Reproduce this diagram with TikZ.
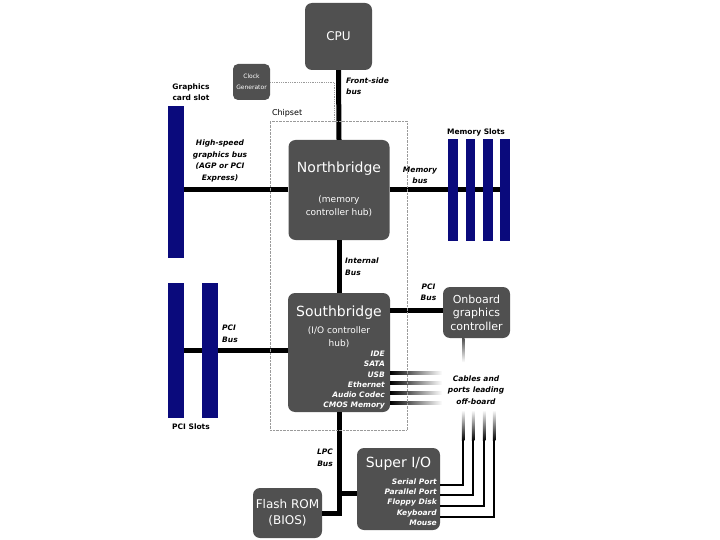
\documentclass[tikz,border=0pt]{standalone}
\usepackage{fontspec}
\setmainfont{DejaVu Sans}
\usetikzlibrary{positioning,calc}
\definecolor{ChipGray}{HTML}{505050}
\definecolor{SlotBlue}{HTML}{0A0A7C}
\definecolor{DotGray}{HTML}{9A9A9A}

\tikzset{
  chip/.style={fill=ChipGray, rounded corners=7pt, text=white, align=center, inner sep=0pt},
  slot/.style={fill=SlotBlue, inner sep=0pt},
  bus/.style={line width=5pt},
  portline/.style={line width=2.5pt},
  buslabel/.style={font=\fontsize{7.5}{11.5}\selectfont\bfseries\itshape, align=center, inner sep=0pt},
  slotlabel/.style={font=\fontsize{7.5}{11}\selectfont\bfseries, align=center, inner sep=0pt},
  portlist/.style={font=\fontsize{7.5}{10.2}\selectfont\bfseries\itshape, text=white, align=right, inner sep=0pt, anchor=north east},
}

\begin{document}
\begin{tikzpicture}[x=1pt, y=-1pt]
\useasboundingbox (0,0) rectangle (720,540);

% chips
\node[chip, minimum width=67pt, minimum height=67pt, font=\fontsize{12}{14}\selectfont] (cpu) at (338.5,36.5) {CPU};
\node[chip, rounded corners=5pt, minimum width=37pt, minimum height=36pt, font=\fontsize{6}{10.5}\selectfont] (clock) at (251.5,82) {Clock\\Generator};
\node[chip, minimum width=101pt, minimum height=100pt] (nb) at (339,190) {};
\node[text=white, font=\fontsize{14}{16}\selectfont] (nbtitle) at (339,169) {Northbridge};
\node[text=white, align=center, font=\fontsize{9}{13}\selectfont] (nbsub) at (339,206) {(memory\\controller hub)};
\node[chip, minimum width=102pt, minimum height=119pt] (sb) at (339,352.5) {};
\node[text=white, font=\fontsize{14}{16}\selectfont] (sbtitle) at (339,313) {Southbridge};
\node[text=white, align=center, font=\fontsize{9}{13}\selectfont] (sbsub) at (339,337) {(I/O controller\\hub)};
\node[portlist] (sbports) at (385,351) {IDE\\SATA\\USB\\Ethernet\\Audio Codec\\CMOS Memory};
\node[chip, minimum width=67pt, minimum height=51pt, font=\fontsize{11}{13.5}\selectfont] (gfx) at (476.5,312.5) {Onboard\\graphics\\controller};
\node[chip, minimum width=83pt, minimum height=82pt] (sio) at (398.5,489) {};
\node[text=white, font=\fontsize{14}{16}\selectfont] (siotitle) at (398.5,464) {Super I/O};
\node[portlist] (sioports) at (437,478.5) {Serial Port\\Parallel Port\\Floppy Disk\\Keyboard\\Mouse};
\node[chip, minimum width=69pt, minimum height=50pt, font=\fontsize{12}{16}\selectfont] (flash) at (287.5,513) {Flash ROM\\(BIOS)};

% slots (drawn after the buses)
\coordinate (gslotpos) at (176,182);
\coordinate (pcipos) at (176,350.5);

% buses
\draw[bus] (cpu.south) -- (nb.north);
\draw[bus] (nb.south) -- (sb.north);
\draw[bus] (nb.west) -- (nb.west -| gslotpos);
\draw[bus] (nb.east) -- (nb.east -| 500,0);
\draw[bus] (sb.west |- pcipos) -- (pcipos);
\coordinate (pcigfx) at (390,310);
\draw[bus] (pcigfx) -- (pcigfx -| gfx.west);
\draw[bus] (sb.south) |- (flash.east);
\coordinate (lpcjoin) at (339,493);
\draw[bus] (lpcjoin) -- (lpcjoin -| sio.west);

\node[slot, minimum width=16pt, minimum height=152pt] (gslot) at (gslotpos) {};
\node[slot, minimum width=16pt, minimum height=135pt] (pci1) at (pcipos) {};
\node[slot, minimum width=16pt, minimum height=135pt, right=18pt of pci1] (pci2) {};
\foreach \i/\x in {1/453, 2/470.5, 3/488, 4/505}
  \node[slot, minimum width=9.5pt, minimum height=102pt] (mem\i) at (\x,190) {};

% cables and ports leading off-board
\foreach \d in {20.5,30.5,40.5,50.5}
  \shade[left color=black, right color=white] ($(sb.east)+(0,\d-1.2)$) rectangle ($(sb.east)+(52,\d+1.2)$);
\shade[top color=ChipGray, bottom color=white] ($(gfx.south)+(-14.5,0)$) rectangle ($(gfx.south)+(-12,24)$);
\foreach \y/\x in {485/463, 495/473, 506/484, 517/494} {
  \draw[portline] (sio.east |- 0,\y) -| (\x,440);
  \shade[top color=white, bottom color=black] (\x-1.25,410) rectangle (\x+1.25,440.5);
}

% chipset outline and clock link
\node[draw=DotGray, densely dotted, minimum width=137pt, minimum height=309pt, inner sep=0pt] (chipset) at (338.5,275.5) {};
\node[anchor=south west, inner sep=0pt, font=\fontsize{8}{10}\selectfont] (chipsetlabel) at ($(chipset.north west)+(2,-3)$) {Chipset};
\draw[DotGray, densely dotted, line width=0.8pt] (clock.east) -- (334,82) -- (334,121);

% labels
\node[slotlabel] (gslotlabel) at (191,92) {Graphics\\card slot};
\node[slotlabel] (memlabel) at (476,132) {Memory Slots};
\node[slotlabel] (pcilabel) at (191,427) {PCI Slots};
\node[buslabel, align=left, anchor=west] (fsblabel) at (346,86) {Front-side\\bus};
\node[buslabel] (agplabel) at (220,161) {High-speed\\graphics bus\\(AGP or PCI\\Express)};
\node[buslabel] (membuslabel) at (420,175.5) {Memory\\bus};
\node[buslabel, align=left, anchor=west] (intlabel) at (345,266.5) {Internal\\Bus};
\node[buslabel, align=left, anchor=west] (pcibuslabel) at (222,334) {PCI\\Bus};
\node[buslabel] (pcigfxlabel) at (428.5,292.5) {PCI\\Bus};
\node[buslabel] (cablelabel) at (476,390) {Cables and\\ports leading\\off-board};
\node[buslabel, align=right, anchor=east] (lpclabel) at (333,458) {LPC\\Bus};
\end{tikzpicture}
\end{document}
